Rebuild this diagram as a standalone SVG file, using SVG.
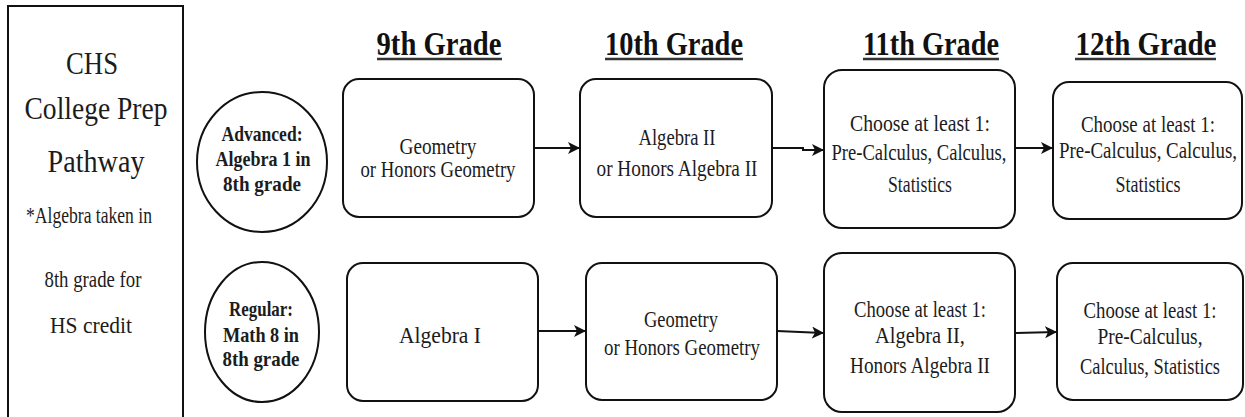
<svg xmlns="http://www.w3.org/2000/svg" width="1245" height="417" viewBox="0 0 1245 417">
<style>
.bg{fill:#fff}
.box{fill:#fff;stroke:#111;stroke-width:2}
.t{font-family:'Liberation Serif','Times New Roman',serif;font-size:23px;fill:#1c1c1c;text-anchor:middle}
.c{font-family:'Liberation Serif','Times New Roman',serif;font-size:21px;font-weight:bold;fill:#1c1c1c;text-anchor:middle}
.h{font-family:'Liberation Serif','Times New Roman',serif;font-size:33px;font-weight:bold;fill:#111;text-anchor:middle}
.l{font-family:'Liberation Serif','Times New Roman',serif;font-size:32px;fill:#1c1c1c;text-anchor:middle}
.s{font-family:'Liberation Serif','Times New Roman',serif;font-size:23px;fill:#1c1c1c;text-anchor:middle}
.ul{stroke:#333;stroke-width:2.5}
.conn{fill:none;stroke:#111;stroke-width:2}
</style>
<defs>
<marker id="arr" markerWidth="12" markerHeight="12" refX="11" refY="6" orient="auto" markerUnits="userSpaceOnUse">
<path d="M0,0 L12,6 L0,12 L3,6 Z" fill="#111"/>
</marker>
</defs>
<rect class="bg" x="0" y="0" width="1245" height="417"/>

<g id="title">
<rect x="8" y="6" width="175" height="420" fill="#fff" stroke="#111" stroke-width="2"/>
<text class="l" x="92" y="74" textLength="52" lengthAdjust="spacingAndGlyphs">CHS</text>
<text class="l" x="96" y="119" textLength="143" lengthAdjust="spacingAndGlyphs">College Prep</text>
<text class="l" x="96" y="172" textLength="97" lengthAdjust="spacingAndGlyphs">Pathway</text>
<text class="s" x="89" y="223" textLength="126" lengthAdjust="spacingAndGlyphs">*Algebra taken in</text>
<text class="s" x="93" y="287" textLength="97" lengthAdjust="spacingAndGlyphs">8th grade for</text>
<text class="s" x="91" y="333" textLength="82" lengthAdjust="spacingAndGlyphs">HS credit</text>
</g>

<g id="headers">
<text class="h" x="439" y="55" textLength="125" lengthAdjust="spacingAndGlyphs">9th Grade</text>
<line class="ul" x1="377" y1="59" x2="502" y2="59"/>
<text class="h" x="674" y="55" textLength="138" lengthAdjust="spacingAndGlyphs">10th Grade</text>
<line class="ul" x1="605" y1="59" x2="743" y2="59"/>
<text class="h" x="931" y="55" textLength="136" lengthAdjust="spacingAndGlyphs">11th Grade</text>
<line class="ul" x1="863" y1="59" x2="999" y2="59"/>
<text class="h" x="1146" y="55" textLength="141" lengthAdjust="spacingAndGlyphs">12th Grade</text>
<line class="ul" x1="1075" y1="59" x2="1216" y2="59"/>
</g>

<g id="connectors">
<path class="conn" d="M534,148 H579" marker-end="url(#arr)"/>
<path class="conn" d="M772,148 H803 V150 H823" marker-end="url(#arr)"/>
<path class="conn" d="M1015,148 H1052" marker-end="url(#arr)"/>
<path class="conn" d="M538,331 H585" marker-end="url(#arr)"/>
<path class="conn" d="M777,331 L823,333" marker-end="url(#arr)"/>
<path class="conn" d="M1015,333 L1056,332" marker-end="url(#arr)"/>
</g>

<g id="advanced">
<ellipse class="box" cx="262" cy="162" rx="65" ry="70"/>
<text class="c" x="262" y="141" textLength="81" lengthAdjust="spacingAndGlyphs">Advanced:</text>
<text class="c" x="263" y="166" textLength="95" lengthAdjust="spacingAndGlyphs">Algebra 1 in</text>
<text class="c" x="262" y="191" textLength="78" lengthAdjust="spacingAndGlyphs">8th grade</text>
</g>

<g id="adv9">
<rect class="box" x="343" y="79" width="191" height="138" rx="16"/>
<text class="t" x="438" y="154" textLength="77" lengthAdjust="spacingAndGlyphs">Geometry</text>
<text class="t" x="438" y="177" textLength="155" lengthAdjust="spacingAndGlyphs">or Honors Geometry</text>
</g>

<g id="adv10">
<rect class="box" x="580" y="79" width="192" height="138" rx="16"/>
<text class="t" x="677" y="145" textLength="77" lengthAdjust="spacingAndGlyphs">Algebra II</text>
<text class="t" x="677" y="176" textLength="161" lengthAdjust="spacingAndGlyphs">or Honors Algebra II</text>
</g>

<g id="adv11">
<rect class="box" x="824" y="70" width="191" height="158" rx="18"/>
<text class="t" x="920" y="131" textLength="140" lengthAdjust="spacingAndGlyphs">Choose at least 1:</text>
<text class="t" x="919" y="160" textLength="175" lengthAdjust="spacingAndGlyphs">Pre-Calculus, Calculus,</text>
<text class="t" x="920" y="192" textLength="64" lengthAdjust="spacingAndGlyphs">Statistics</text>
</g>

<g id="adv12">
<rect class="box" x="1053" y="82" width="189" height="137" rx="16"/>
<text class="t" x="1148" y="132" textLength="134" lengthAdjust="spacingAndGlyphs">Choose at least 1:</text>
<text class="t" x="1148" y="158" font-size="20" textLength="178" lengthAdjust="spacingAndGlyphs">Pre-Calculus, Calculus,</text>
<text class="t" x="1148" y="192" textLength="65" lengthAdjust="spacingAndGlyphs">Statistics</text>
</g>

<g id="regular">
<ellipse class="box" cx="262" cy="332" rx="57" ry="70"/>
<text class="c" x="261" y="316" textLength="64" lengthAdjust="spacingAndGlyphs">Regular:</text>
<text class="c" x="261" y="342" textLength="76" lengthAdjust="spacingAndGlyphs">Math 8 in</text>
<text class="c" x="261" y="366" textLength="77" lengthAdjust="spacingAndGlyphs">8th grade</text>
</g>

<g id="reg9">
<rect class="box" x="347" y="263" width="191" height="138" rx="16"/>
<text class="t" x="440" y="343" font-size="25" textLength="82" lengthAdjust="spacingAndGlyphs">Algebra I</text>
</g>

<g id="reg10">
<rect class="box" x="586" y="263" width="191" height="137" rx="16"/>
<text class="t" x="681" y="327" textLength="74" lengthAdjust="spacingAndGlyphs">Geometry</text>
<text class="t" x="682" y="355" textLength="156" lengthAdjust="spacingAndGlyphs">or Honors Geometry</text>
</g>

<g id="reg11">
<rect class="box" x="824" y="253" width="191" height="159" rx="18"/>
<text class="t" x="920" y="317" textLength="132" lengthAdjust="spacingAndGlyphs">Choose at least 1:</text>
<text class="t" x="920" y="343" textLength="90" lengthAdjust="spacingAndGlyphs">Algebra II,</text>
<text class="t" x="920" y="373" textLength="140" lengthAdjust="spacingAndGlyphs">Honors Algebra II</text>
</g>

<g id="reg12">
<rect class="box" x="1057" y="263" width="186" height="137" rx="16"/>
<text class="t" x="1150" y="318" textLength="133" lengthAdjust="spacingAndGlyphs">Choose at least 1:</text>
<text class="t" x="1150" y="344" textLength="105" lengthAdjust="spacingAndGlyphs">Pre-Calculus,</text>
<text class="t" x="1150" y="374" font-size="21" textLength="140" lengthAdjust="spacingAndGlyphs">Calculus, Statistics</text>
</g>
</svg>
